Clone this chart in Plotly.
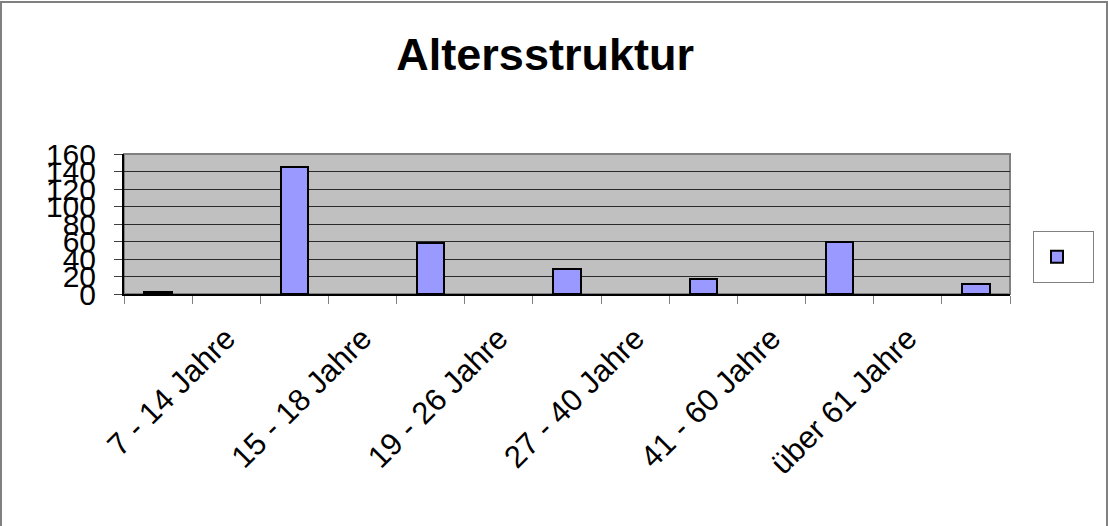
import plotly.graph_objects as go

# ---- data ----
title_text = "Altersstruktur"
age_labels = ["7 - 14 Jahre", "15 - 18 Jahre", "19 - 26 Jahre",
              "27 - 40 Jahre", "41 - 60 Jahre", "über 61 Jahre"]
bar_values = [2, 145, 58, 29, 17, 60, 11]
y_ticks = [0, 20, 40, 60, 80, 100, 120, 140, 160]

# category slots: bars occupy every other slot, labels sit between them
n_slots = 2 * len(bar_values) - 1
bar_x = list(range(0, n_slots, 2))
label_x = list(range(1, n_slots, 2))

W, H = 1108, 526
ML, MR, MT, MB = 124, 98, 154, 232
PW, PH = W - ML - MR, H - MT - MB

fig = go.Figure()
fig.add_trace(go.Bar(
    x=bar_x, y=bar_values, width=0.4, name=" ",
    marker=dict(color="#9999FF", line=dict(color="black", width=2)),
    showlegend=True,
))

font_family = "Liberation Sans, Arial, sans-serif"

fig.update_layout(
    width=W, height=H,
    margin=dict(l=ML, r=MR, t=MT, b=MB, autoexpand=False),
    paper_bgcolor="white",
    plot_bgcolor="#C0C0C0",
    font=dict(family=font_family, color="black"),
    title=dict(text="<b>" + title_text + "</b>", x=0.492, xanchor="center",
               y=1 - 54 / H, yanchor="middle",
               font=dict(size=45, family=font_family, color="black")),
    bargap=0,
    showlegend=True,
    legend=dict(x=(1033 - ML) / PW, xanchor="left", y=(294 - 231) / PH, yanchor="top",
                bordercolor="#808080", borderwidth=1, bgcolor="white",
                font=dict(size=28), itemwidth=36),
    xaxis=dict(
        range=[-0.5, n_slots - 0.5],
        tickmode="array", tickvals=label_x, ticktext=age_labels,
        tickangle=-45, tickfont=dict(size=31),
        ticks="", showgrid=False, zeroline=False,
        showline=True, linecolor="black", linewidth=2,
        ticklabelstandoff=12,
        minor=dict(tickmode="linear", tick0=-0.5, dtick=1, ticks="outside",
                   ticklen=8, tickcolor="#808080", tickwidth=1, showgrid=False),
    ),
    yaxis=dict(
        range=[0, 160], tickmode="array", tickvals=y_ticks,
        tickfont=dict(size=30), ticks="outside", ticklen=8,
        tickcolor="#404040", tickwidth=1,
        showgrid=True, gridcolor="#2a2a2a", gridwidth=1,
        zeroline=False, showline=True, linecolor="black", linewidth=2,
        ticklabelstandoff=12,
    ),
    shapes=[
        # plot area border (top/right grey)
        dict(type="rect", xref="paper", yref="paper", x0=0, x1=1, y0=0, y1=1,
             line=dict(color="#808080", width=2), layer="below"),
        # chart area outer border
        dict(type="rect", xref="paper", yref="paper",
             x0=(1 - ML) / PW, x1=(1107 - ML) / PW,
             y0=(294 - 600) / PH, y1=(294 - 2) / PH,
             line=dict(color="#808080", width=2)),
    ],
)

fig.write_html("out.html", config={"displayModeBar": False},
               post_script="document.body.style.margin='0';")
